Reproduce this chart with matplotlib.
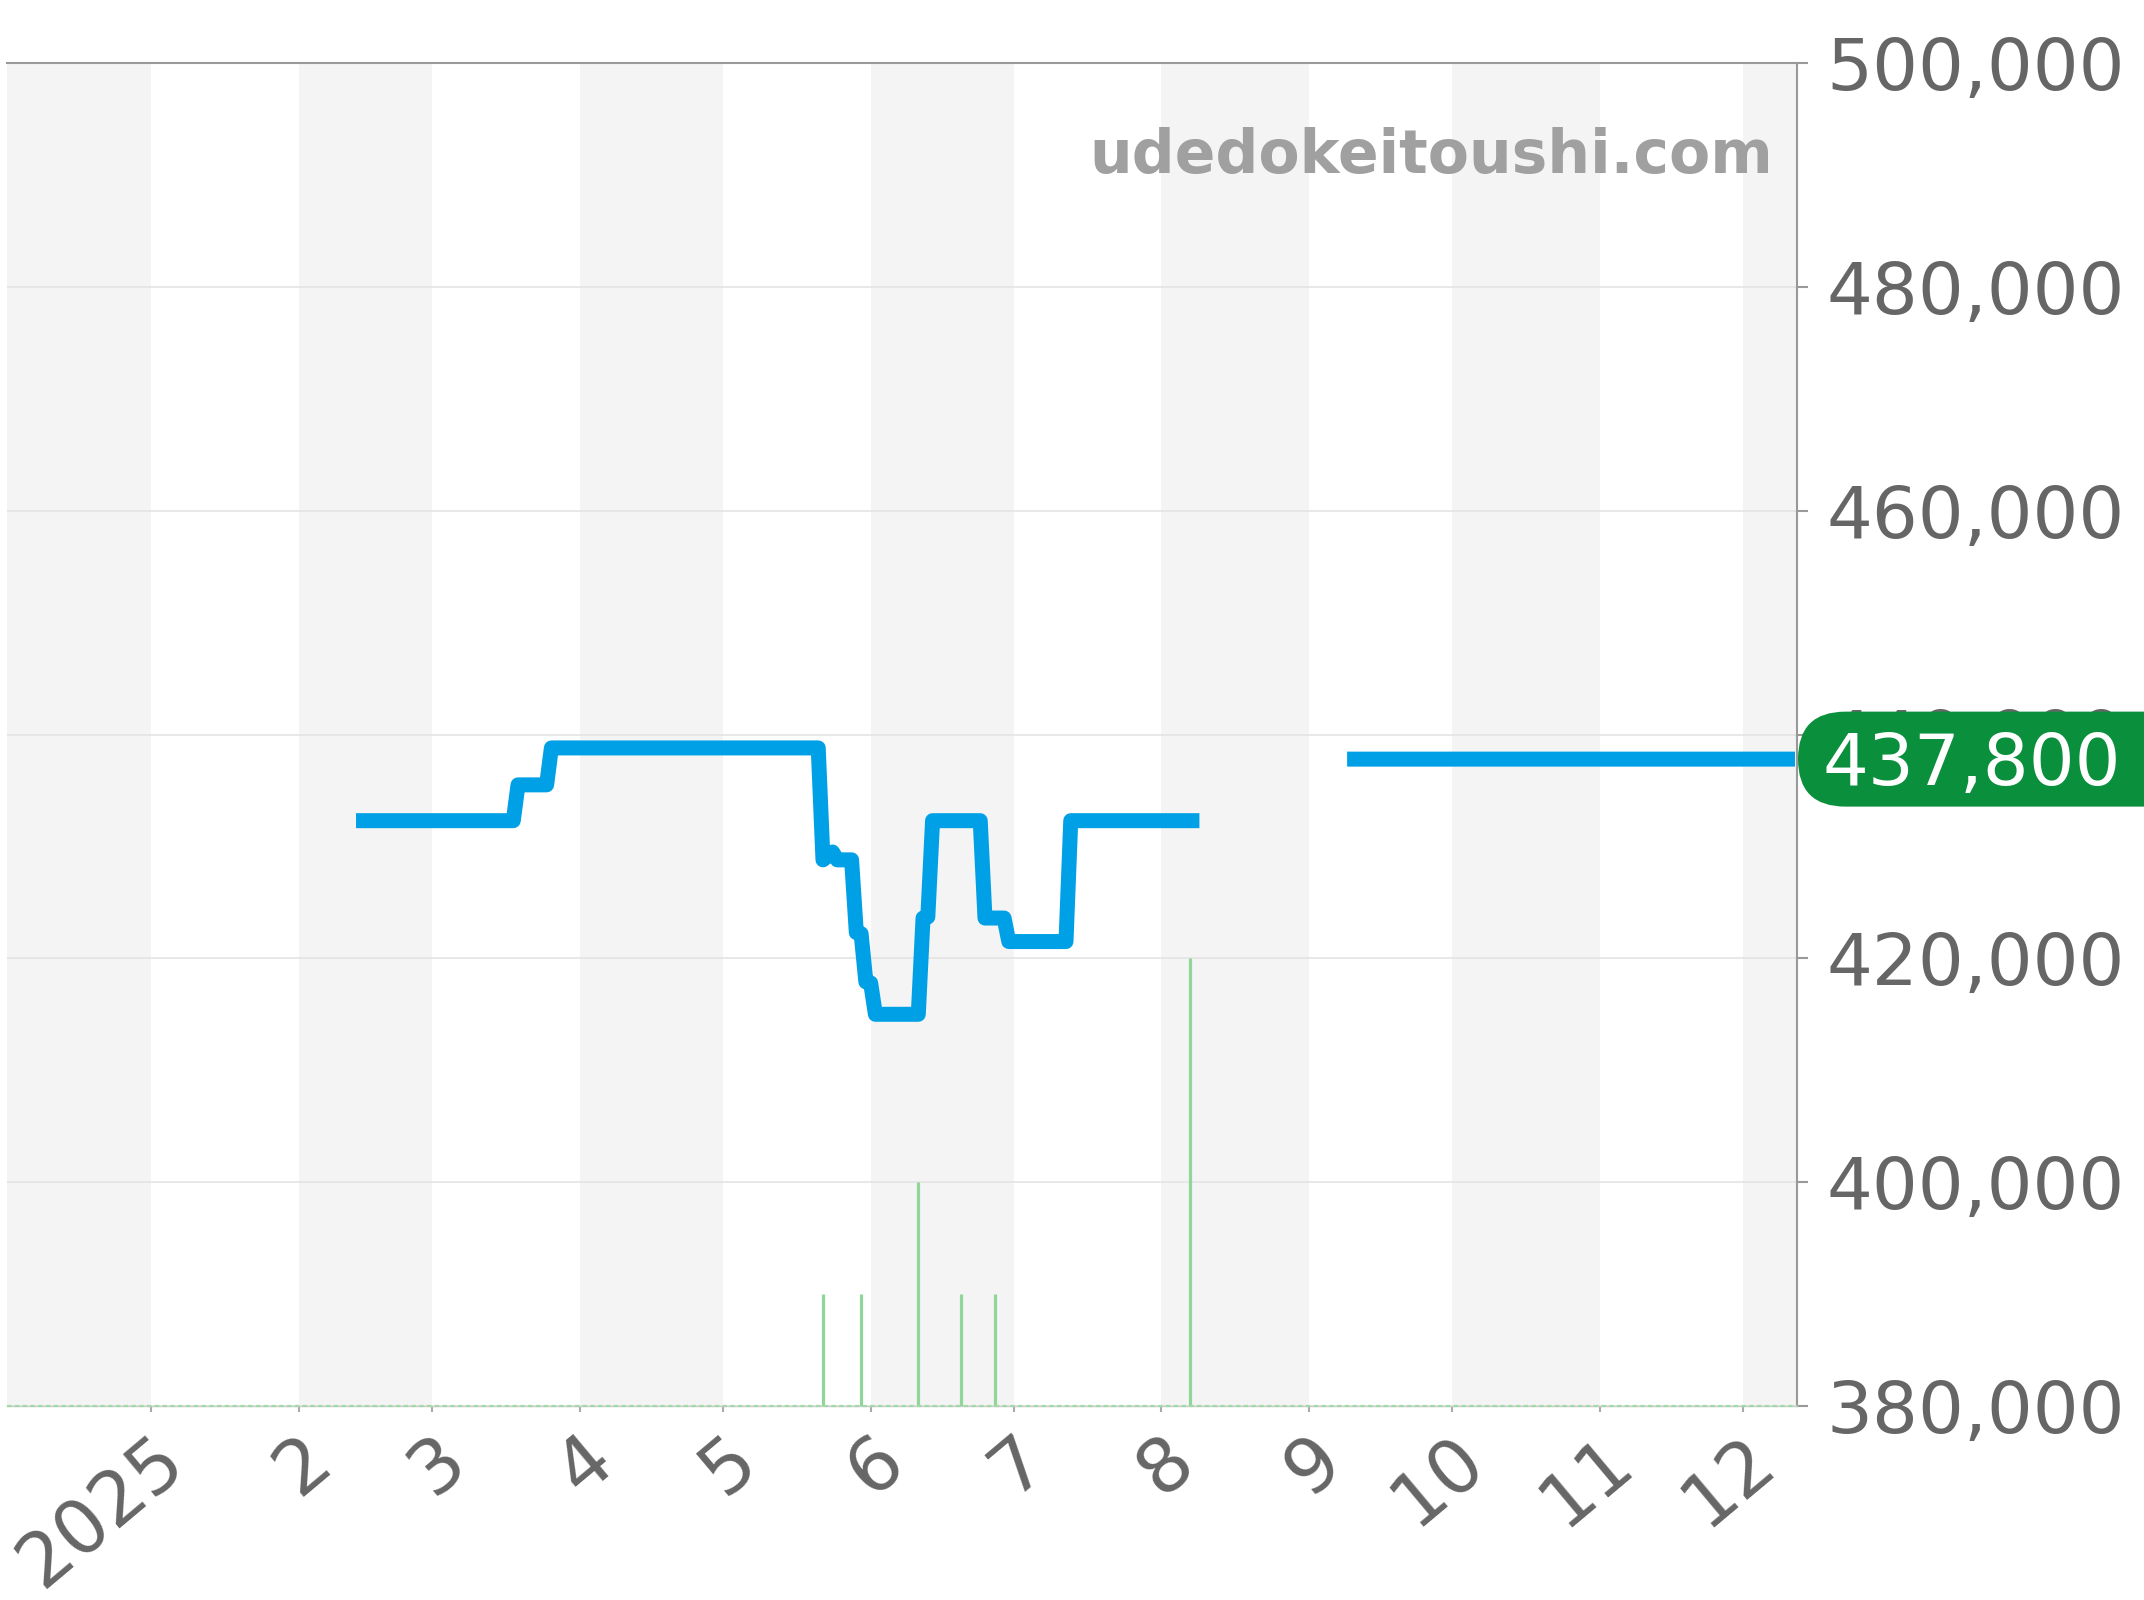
import numpy as np
import pandas as pd
import matplotlib
matplotlib.use("Agg")
import matplotlib.pyplot as plt
from matplotlib.patches import FancyBboxPatch
from matplotlib.ticker import FuncFormatter

# --- data ---
price_dates = ["2025-02-13", "2025-03-18", "2025-03-19", "2025-03-25", "2025-03-26",
               "2025-05-21", "2025-05-22", "2025-05-24", "2025-05-25", "2025-05-28",
               "2025-05-29", "2025-05-30", "2025-05-31", "2025-06-01", "2025-06-02",
               "2025-06-11", "2025-06-12", "2025-06-13", "2025-06-14", "2025-06-24",
               "2025-06-25", "2025-06-29", "2025-06-30", "2025-07-12", "2025-07-13",
               "2025-08-09", "2025-08-25", "2025-09-09", "2025-12-12"]
price_values = [432300, 432300, 435500, 435500, 438800,
                438800, 428800, 429500, 428800, 428800,
                422300, 422200, 417900, 417800, 415000,
                415000, 423600, 423700, 432300, 432300,
                423600, 423600, 421500, 421500, 432300,
                432300, np.nan, 437800, 437800]

sale_dates = ["2025-05-22", "2025-05-30", "2025-06-11", "2025-06-20", "2025-06-27", "2025-08-07"]
sale_counts = [1, 1, 2, 1, 1, 4]

last_price = 437800
month_starts = pd.date_range("2025-01-01", "2025-12-01", freq="MS")
month_labels = ["2025", "2", "3", "4", "5", "6", "7", "8", "9", "10", "11", "12"]
shaded_months = ["2024-12-01", "2025-02-01", "2025-04-01", "2025-06-01",
                 "2025-08-01", "2025-10-01", "2025-12-01"]
y_ticks = list(range(380000, 500001, 20000))

x_start = pd.Timestamp("2024-12-01 18:00")
x_end = pd.Timestamp("2025-12-12 10:00")

plt.rcParams['font.family'] = ['DejaVu Sans']

fig = plt.figure(figsize=(21.44, 16), dpi=100)
ax = fig.add_axes([7 / 2144, 1 - 1406 / 1600, (1797 - 7) / 2144, (1406 - 63) / 1600])

# alternating month shading
for m in shaded_months:
    s = pd.Timestamp(m)
    ax.axvspan(s, s + pd.offsets.MonthBegin(1), color="#f4f4f4", lw=0, zorder=0)

ax.grid(axis="y", color="#e4e4e4", linewidth=1.2, zorder=0.5)
ax.set_axisbelow(True)

# sales volume on a hidden twin axis
ax2 = ax.twinx()
ax2.set_ylim(0, 12)
ax2.vlines(pd.to_datetime(sale_dates), 0, sale_counts, color="#8fd698", lw=2.3)
ax2.axhline(0, color="#9fdaa8", lw=1.6, ls=(0, (2, 1.5)), clip_on=False)
ax2.axis("off")

# price line
ax.plot(pd.to_datetime(price_dates), price_values, color="#00a0e6", lw=10.8,
        solid_joinstyle="round", solid_capstyle="butt", zorder=3)

ax.set_xlim(x_start, x_end)
ax.set_ylim(380000, 500000)

ax.yaxis.tick_right()
ax.set_yticks(y_ticks)
ax.yaxis.set_major_formatter(FuncFormatter(lambda v, p: f"{int(v):,}"))
ax.tick_params(axis="y", direction="out", length=8, width=1.5, color="#999999",
               labelsize=52, labelcolor="#666666", pad=13)

ax.set_xticks(month_starts)
ax.set_xticklabels(month_labels)
ax.tick_params(axis="x", direction="out", length=4, width=1.5, color="#aaaaaa",
               labelsize=54, labelcolor="#666666", pad=8)
for lab in ax.get_xticklabels():
    lab.set_rotation(40)
    lab.set_rotation_mode("anchor")
    lab.set_ha("right")
    lab.set_va("top")

ax.spines["left"].set_visible(False)
for side in ["top", "right"]:
    ax.spines[side].set_color("#999999")
    ax.spines[side].set_linewidth(1.5)
ax.spines["bottom"].set_color("#cccccc")
ax.spines["bottom"].set_linewidth(1)

# watermark
ax.text(0.9866, 0.9181, "udedokeitoushi.com", transform=ax.transAxes, ha="right",
        va="baseline", fontsize=43.2, fontweight="bold", color="#a0a0a0", zorder=4)

# latest price badge
y_px = ax.transData.transform((0, last_price))[1]
x_px = ax.get_position().x1 * 2144 + 1
badge = FancyBboxPatch((x_px / 100, y_px / 100 - 0.475), 4.0, 0.95,
                       boxstyle="round,pad=0,rounding_size=0.475",
                       transform=fig.dpi_scale_trans, fc="#0a8f3c", ec="none", zorder=4)
fig.add_artist(badge)
fs = 52
fig.text((x_px + 25) / 100, (y_px - 0.3645 * fs * 100 / 72) / 100, f"{last_price:,}",
         transform=fig.dpi_scale_trans, ha="left", va="baseline", fontsize=fs,
         color="white", zorder=5)

fig.savefig("out.png", dpi=100)
